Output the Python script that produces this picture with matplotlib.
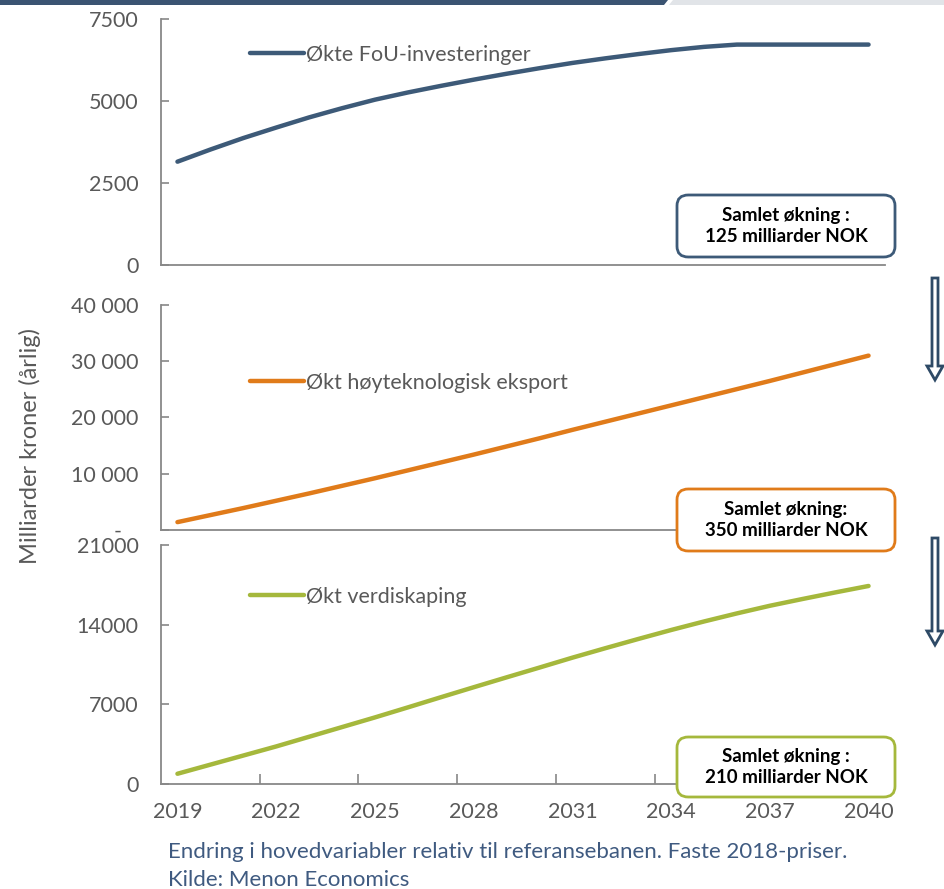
import matplotlib
matplotlib.use("Agg")
import matplotlib.pyplot as plt
from matplotlib.patches import FancyBboxPatch, FancyArrow, Polygon
from matplotlib.ticker import FuncFormatter, MultipleLocator, FixedLocator

plt.rcParams['font.family'] = ['Lato', 'DejaVu Sans']

years = list(range(2019, 2041))
xticks = [2019, 2022, 2025, 2028, 2031, 2034, 2037, 2040]

# Økte FoU-investeringer
fou = [3150, 3520, 3870, 4190, 4500, 4780, 5040, 5260, 5460, 5650, 5830,
       6000, 6160, 6300, 6430, 6550, 6650, 6720, 6720, 6720, 6720, 6720]
# Økt høyteknologisk eksport
eksport = [1400, 2650, 3900, 5200, 6500, 7850, 9200, 10600, 12000, 13400, 14850,
           16300, 17800, 19250, 20700, 22150, 23600, 25050, 26500, 28000, 29500, 31000]
# Økt verdiskaping
verdi = [900, 1700, 2500, 3300, 4150, 5000, 5850, 6730, 7620, 8500, 9370,
         10230, 11100, 11930, 12740, 13530, 14280, 14990, 15660, 16260, 16840, 17400]

labels = ["Økte FoU-investeringer", "Økt høyteknologisk eksport", "Økt verdiskaping"]
boxes = ["Samlet økning :\n125 milliarder NOK",
         "Samlet økning:\n350 milliarder NOK",
         "Samlet økning :\n210 milliarder NOK"]
colors = ["#3d5a78", "#e07b1a", "#a5b83c"]

W, H = 945, 889
fig = plt.figure(figsize=(W / 100, H / 100), dpi=100)

def fx(px):
    return px / W

def fy(py):
    return 1 - py / H

grey = "#888888"
tickc = "#595959"

# panel layout in pixels: (top, bottom)
rows = [(19, 265), (305, 530), (545, 784)]
ylims = [(0, 7500), (0, 40000), (0, 21000)]
ysteps = [2500, 10000, 7000]
legy = [55, 383, 597]
series = [fou, eksport, verdi]

def fmt_space(v, pos):
    if v == 0:
        return "-   "
    return "{:,.0f}".format(v).replace(",", " ")

def fmt_plain(v, pos):
    return "{:.0f}".format(v)

axes = []
for i in range(3):
    top, bot = rows[i]
    ax = fig.add_axes([fx(161), fy(bot), fx(885) - fx(161), (bot - top) / H])
    ax.plot(years, series[i], color=colors[i], lw=3.2, solid_capstyle='round',
            label=labels[i])
    ax.set_xlim(2018.5, 2040.5)
    ax.set_ylim(*ylims[i])
    ax.yaxis.set_major_locator(MultipleLocator(ysteps[i]))
    ax.yaxis.set_major_formatter(FuncFormatter(fmt_space if i == 1 else fmt_plain))
    for s in ['top', 'right']:
        ax.spines[s].set_visible(False)
    for s in ['left', 'bottom']:
        ax.spines[s].set_color(grey)
        ax.spines[s].set_linewidth(1.3)
    ax.tick_params(axis='y', direction='in', length=6, width=1.2, color=grey,
                   labelcolor=tickc, labelsize=15.5, pad=16)
    ax.set_xticks(xticks)
    if i < 2:
        ax.tick_params(axis='x', length=0, labelbottom=False)
    else:
        ax.tick_params(axis='x', length=0, labelcolor=tickc, labelsize=15.5, pad=13)
        ax.xaxis.set_minor_locator(FixedLocator([2021.5, 2024.5, 2027.5, 2030.5,
                                                 2033.5, 2036.5, 2039.5]))
        ax.tick_params(axis='x', which='minor', direction='in', length=7,
                       width=1.2, color=grey)
    ax.legend(loc='center left',
              bbox_to_anchor=((250 - 161) / 724, (bot - legy[i]) / (bot - top)),
              frameon=False, fontsize=15.5, handlelength=2.5, handletextpad=0.1,
              borderpad=0, borderaxespad=0, labelcolor=tickc)
    axes.append(ax)

fig.text(fx(30), fy(446), "Milliarder kroner (årlig)", rotation=90,
         ha='center', va='center', fontsize=17, color=tickc)

# result boxes
box_rows = [(195, 257), (489, 551), (737, 797)]
for i, (t, b) in enumerate(box_rows):
    p = FancyBboxPatch((fx(677), fy(b)), fx(895) - fx(677), (b - t) / H,
                       boxstyle="round,pad=0,rounding_size=0.012",
                       transform=fig.transFigure, facecolor='white',
                       edgecolor=colors[i], lw=2.0, zorder=10)
    fig.patches.append(p)
    fig.text(fx(786), fy((t + b) / 2), boxes[i], ha='center', va='center',
             fontsize=13.5, fontweight='bold', color='black', linespacing=1.35,
             zorder=11)

# down arrows on the right
for t, b in [(278, 380), (538, 645)]:
    arr = FancyArrow(fx(935), fy(t), 0, -(b - t) / H, width=fx(6),
                     head_width=fx(16), head_length=14 / H,
                     length_includes_head=True, transform=fig.transFigure,
                     facecolor='white', edgecolor='#2e4a66', lw=2.0)
    fig.patches.append(arr)

# header band
fig.patches.append(Polygon([(0, 1), (fx(668), 1), (fx(664), fy(5)), (0, fy(5))],
                           closed=True, transform=fig.transFigure,
                           facecolor='#3b5472', edgecolor='none'))
fig.patches.append(Polygon([(fx(673), 1), (1, 1), (1, fy(5)), (fx(669), fy(5))],
                           closed=True, transform=fig.transFigure,
                           facecolor='#e1e4e8', edgecolor='none'))

capc = "#3f5a80"
fig.text(fx(168), fy(852), "Endring i hovedvariabler relativ til referansebanen. Faste 2018-priser.",
         ha='left', va='center', fontsize=16, color=capc)
fig.text(fx(168), fy(880), "Kilde: Menon Economics",
         ha='left', va='center', fontsize=16, color=capc)

fig.savefig("out.png", dpi=100)
